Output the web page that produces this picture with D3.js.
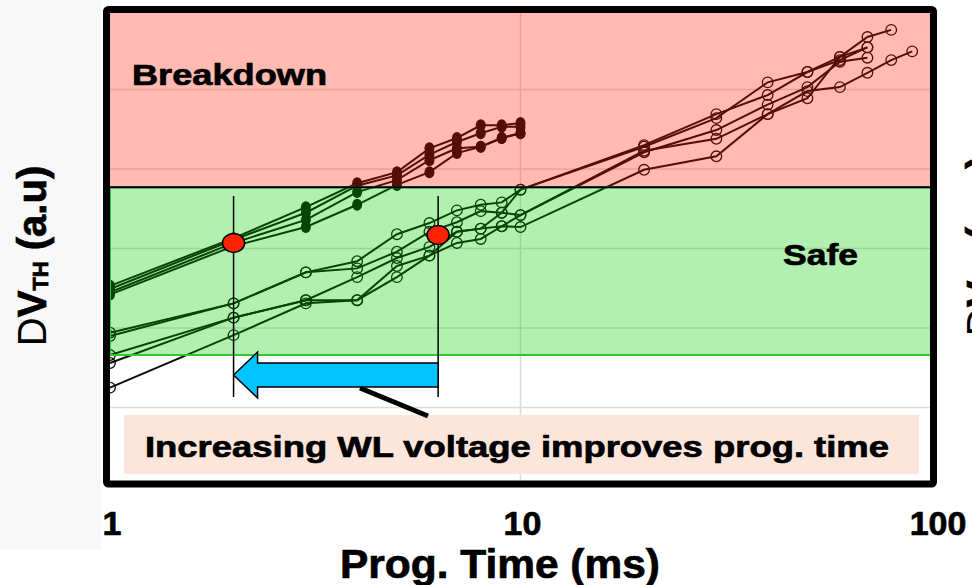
<!DOCTYPE html>
<html>
<head>
<meta charset="utf-8">
<script src="https://cdn.jsdelivr.net/npm/d3@7"></script>
<style>
  body { margin: 0; background: #fff; }
  text { font-family: "Liberation Sans", Arial, sans-serif; font-weight: bold; stroke: #000; stroke-width: 0.7px; }
</style>
</head>
<body>
<div id="chart"></div>
<script>
// prog. time (ms) and ΔVth (a.u)
var fastTimes = [1, 2, 3, 4, 5, 6, 7, 8, 9, 10];
var fastA = [2.53, 3.13, 3.52, 3.82, 3.96, 4.26, 4.39, 4.55, 4.55, 4.58];
var fastB = [2.49, 3.11, 3.45, 3.79, 3.92, 4.18, 4.34, 4.45, 4.53, 4.53];
var fastC = [2.45, 3.07, 3.36, 3.71, 3.86, 4.11, 4.26, 4.28, 4.39, 4.45];
var fastD = [2.42, 3.03, 3.27, 3.55, 3.80, 3.96, 4.20, 4.28, 4.39, 4.45];

var slowTimes = [1, 2, 3, 4, 5, 6, 7, 8, 9, 10, 20, 30, 40, 50, 60, 70, 80, 90];
var slowA = [1.94, 2.31, 2.70, 2.84, 3.18, 3.32, 3.48, 3.55, 3.58, 3.74, 4.30, 4.69, 4.93, 5.22, 5.41, 5.66, 5.75];
var slowB = [1.90, 2.31, 2.70, 2.75, 2.96, 3.21, 3.33, 3.47, 3.45, 3.74, 4.28, 4.64, 5.09, 5.22, 5.37, 5.53];
var slowC = [1.66, 2.13, 2.35, 2.64, 2.88, 3.02, 3.21, 3.25, 3.45, 3.42, 4.21, 4.49, 4.81, 5.03, 5.35, 5.40];
var slowD = [1.56, 2.13, 2.35, 2.35, 2.78, 2.91, 3.07, 3.12, 3.28, 3.42, 4.23, 4.38, 4.69, 4.89, 5.41, 5.53];
var slowE = [1.25, 1.91, 2.31, 2.35, 2.64, 2.91, 3.21, 3.25, 3.28, 3.27, 3.99, 4.16, 4.69, 4.98, 5.03, 5.21, 5.37, 5.48];

var xTicks = [1, 10, 100];
var yGrid = [1, 2, 3, 4, 5];

// zone limits and the two marked crossing points
var breakdownLevel = 3.77;
var safeLevel = 1.66;
var markPoints = [{t: 2, v: 3.07}, {t: 6.3, v: 3.17}];

var svgWidth = 972;
var svgHeight = 585;

var svg = d3.select("#chart")
  .append("svg")
  .attr("width", svgWidth)
  .attr("height", svgHeight);

// scales
var x = d3.scaleLog().domain([1, 100]).range([110, 931]);
var y = d3.scaleLinear().domain([0, 6]).range([487, 10]);

var plotLeft = 110, plotRight = 930, plotTop = 13, plotBottom = 480.5;

svg.append("rect")
  .attr("x", 0).attr("y", 0).attr("width", 101).attr("height", 550)
  .attr("fill", "#f8f8f8");
svg.append("rect")
  .attr("x", plotLeft).attr("y", plotTop)
  .attr("width", plotRight - plotLeft).attr("height", plotBottom - plotTop)
  .attr("fill", "#fff");

// grid
svg.append("g").selectAll("line")
  .data(yGrid)
  .enter().append("line")
  .attr("x1", plotLeft).attr("x2", plotRight)
  .attr("y1", d => y(d)).attr("y2", d => y(d))
  .attr("stroke", "#dcdcdc").attr("stroke-width", 1.5);

svg.append("line")
  .attr("x1", x(10)).attr("x2", x(10))
  .attr("y1", plotTop).attr("y2", plotBottom)
  .attr("stroke", "#dcdcdc").attr("stroke-width", 1.5);

function toPoints(times, vals) {
  return vals.map((v, i) => ({t: times[i], v: v}));
}

var fastSeries = [fastA, fastB, fastC, fastD].map(s => toPoints(fastTimes, s));
var slowSeries = [slowA, slowB, slowC, slowD, slowE].map(s => toPoints(slowTimes, s));

var line = d3.line().x(d => x(d.t)).y(d => y(d.v));

var plot = svg.append("g");

plot.selectAll(".slow")
  .data(slowSeries)
  .enter().append("path")
  .attr("class", "slow")
  .attr("d", line)
  .attr("fill", "none").attr("stroke", "#0a0a0a").attr("stroke-width", 2);

plot.selectAll(".fast")
  .data(fastSeries)
  .enter().append("path")
  .attr("class", "fast")
  .attr("d", line)
  .attr("fill", "none").attr("stroke", "#0a0a0a").attr("stroke-width", 2);

slowSeries.forEach(function(s) {
  plot.append("g").selectAll("circle")
    .data(s)
    .enter().append("circle")
    .attr("cx", d => x(d.t)).attr("cy", d => y(d.v))
    .attr("r", 5.3)
    .attr("fill", "none").attr("stroke", "#0a0a0a").attr("stroke-width", 1.3);
});

fastSeries.forEach(function(s) {
  plot.append("g").selectAll("ellipse")
    .data(s)
    .enter().append("ellipse")
    .attr("cx", d => x(d.t)).attr("cy", d => y(d.v))
    .attr("rx", 5).attr("ry", 6)
    .attr("fill", "#0a0a0a");
});

// translucent zones over the data
svg.append("rect")
  .attr("x", plotLeft).attr("y", plotTop)
  .attr("width", plotRight - plotLeft).attr("height", y(breakdownLevel) - plotTop)
  .attr("fill", "rgb(255,30,0)").attr("fill-opacity", 0.3);

svg.append("rect")
  .attr("x", plotLeft).attr("y", y(breakdownLevel))
  .attr("width", 825).attr("height", y(safeLevel) - y(breakdownLevel))
  .attr("fill", "rgb(0,205,0)").attr("fill-opacity", 0.3)
  .attr("stroke", "#33c633").attr("stroke-width", 2);

svg.append("line")
  .attr("x1", plotLeft).attr("x2", 934)
  .attr("y1", y(breakdownLevel)).attr("y2", y(breakdownLevel))
  .attr("stroke", "#000").attr("stroke-width", 2);

// annotation
svg.append("rect")
  .attr("x", 124).attr("y", 415).attr("width", 795).attr("height", 59)
  .attr("fill", "#fce6dc");

svg.append("text")
  .attr("x", 145).attr("y", 457)
  .attr("font-size", 29)
  .attr("textLength", 744).attr("lengthAdjust", "spacingAndGlyphs")
  .text("Increasing WL voltage improves prog. time");

svg.append("line")
  .attr("x1", 360).attr("y1", 388).attr("x2", 428).attr("y2", 416)
  .attr("stroke", "#000").attr("stroke-width", 5);

svg.selectAll(".vmark")
  .data(markPoints)
  .enter().append("line")
  .attr("class", "vmark")
  .attr("x1", d => x(d.t)).attr("x2", d => x(d.t))
  .attr("y1", 196).attr("y2", 397)
  .attr("stroke", "#000").attr("stroke-width", 1.5);

var xa = x(markPoints[0].t), xb = x(markPoints[1].t);
svg.append("path")
  .attr("d", `M${xa},375 L${xa + 24},352 L${xa + 24},363 L${xb},363 L${xb},387 L${xa + 24},387 L${xa + 24},398 Z`)
  .attr("fill", "#00c3ff").attr("stroke", "#000").attr("stroke-width", 1.5);

svg.selectAll(".mark")
  .data(markPoints)
  .enter().append("ellipse")
  .attr("class", "mark")
  .attr("cx", d => x(d.t)).attr("cy", d => y(d.v))
  .attr("rx", 11).attr("ry", 9.5)
  .attr("fill", "#ff2200").attr("stroke", "#000").attr("stroke-width", 1.5);

svg.append("text")
  .attr("x", 132).attr("y", 85)
  .attr("font-size", 30)
  .attr("textLength", 195).attr("lengthAdjust", "spacingAndGlyphs")
  .text("Breakdown");

svg.append("text")
  .attr("x", 783).attr("y", 265)
  .attr("font-size", 30)
  .attr("textLength", 75).attr("lengthAdjust", "spacingAndGlyphs")
  .text("Safe");

// frame
svg.append("rect")
  .attr("x", 106.5).attr("y", 9.5).attr("width", 827).attr("height", 474.5)
  .attr("rx", 2)
  .attr("fill", "none").attr("stroke", "#000").attr("stroke-width", 7);

// x tick labels
svg.selectAll(".xtick")
  .data(xTicks)
  .enter().append("text")
  .attr("class", "xtick")
  .attr("x", d => x(d) + (d === 100 ? 7 : 2))
  .attr("y", 535)
  .attr("text-anchor", "middle")
  .attr("font-size", 34)
  .text(d => d);

svg.append("text")
  .attr("x", 500).attr("y", 578)
  .attr("text-anchor", "middle")
  .attr("font-size", 40)
  .attr("textLength", 320).attr("lengthAdjust", "spacingAndGlyphs")
  .text("Prog. Time (ms)");

function yLabel(cx, cy) {
  var t = svg.append("text")
    .attr("transform", `translate(${cx},${cy}) rotate(-90)`)
    .attr("text-anchor", "middle")
    .attr("font-size", 40);
  t.append("tspan").attr("font-weight", "normal").attr("stroke-width", 0).text("D");
  t.append("tspan").text("V");
  t.append("tspan").attr("font-size", 22).attr("dy", 2).text("TH");
  t.append("tspan").attr("dy", -2).text(" (a.u)");
  return t;
}

yLabel(46, 256);
// edge of the neighbouring panel's label
yLabel(995, 246);
</script>
</body>
</html>
